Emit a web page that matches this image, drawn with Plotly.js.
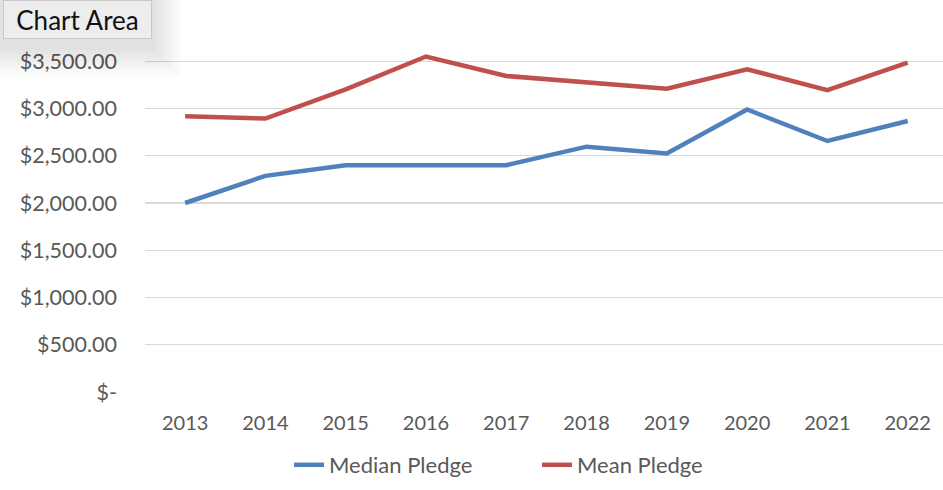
<!DOCTYPE html>
<html>
<head>
<meta charset="utf-8">
<script src="https://cdn.plot.ly/plotly-3.0.1.min.js"></script>
<style>html,body{margin:0;padding:0;background:#fff;}#chart{width:943px;height:490px;}</style>
</head>
<body>
<div id="chart"></div>
<script>
const years = ["2013","2014","2015","2016","2017","2018","2019","2020","2021","2022"];
const medianPledge = [2000, 2287, 2400, 2400, 2400, 2596, 2525, 2990, 2656, 2868];
const meanPledge = [2918, 2894, 3202, 3550, 3344, 3280, 3210, 3415, 3195, 3486];
const yTickVals = [0, 500, 1000, 1500, 2000, 2500, 3000, 3500, 4000];
const yTickText = ["$-", "$500.00", "$1,000.00", "$1,500.00", "$2,000.00", "$2,500.00", "$3,000.00", "$3,500.00", ""];

const font = "Lato, 'Open Sans', sans-serif";
const W = 798, H = 378, L = 145, T = 14;
const px = v => (v - L) / W;          // page x pixel -> paper
const py = v => 1 - (v - T) / H;      // page y pixel -> paper

const traces = [
  {x: years, y: medianPledge, type: "scatter", mode: "lines", name: "Median Pledge",
   line: {color: "#4F81BD", width: 4.5}},
  {x: years, y: meanPledge, type: "scatter", mode: "lines", name: "Mean Pledge",
   line: {color: "#C0504D", width: 4.5}}
];

// soft drop shadow behind the "Chart Area" tooltip
const shadowShapes = [];
for (let s = 30; s >= 2; s -= 2) {
  shadowShapes.push({type: "rect", xref: "paper", yref: "paper", layer: "above",
    x0: px(3 - s * 0.8), x1: px(152 + s), y0: py(39 + 8 + s), y1: py(0),
    fillcolor: "rgba(0,0,0,0.009)", line: {width: 0}});
}

const layout = {
  width: 943, height: 490,
  margin: {l: L, r: 0, t: T, b: 98, pad: 0},
  paper_bgcolor: "#ffffff", plot_bgcolor: "#ffffff",
  font: {family: font, size: 20, color: "#595959"},
  showlegend: true,
  legend: {orientation: "h", x: 0.1805, xanchor: "left", y: py(465), yanchor: "middle",
           font: {family: font, size: 22, color: "#595959"}, entrywidth: 203, traceorder: "normal"},
  xaxis: {type: "category", range: [-0.5, 9.44], showgrid: false, zeroline: false,
          showline: false, ticks: "", tickfont: {family: font, size: 20, color: "#595959"},
          ticklabelstandoff: 17, fixedrange: true},
  yaxis: {range: [0, 4000], tickmode: "array", tickvals: yTickVals, ticktext: yTickText,
          showgrid: true, gridcolor: "#D9D9D9", gridwidth: 1.3, zeroline: false, showline: false,
          ticks: "", tickfont: {family: font, size: 21.5, color: "#595959"},
          ticklabelstandoff: 27, fixedrange: true},
  shapes: shadowShapes,
  annotations: [
    {xref: "paper", yref: "paper", x: px(3), y: py(0), xanchor: "left", yanchor: "top",
     text: "Chart Area", showarrow: false, font: {family: font, size: 26, color: "#111111"},
     bgcolor: "#EDEDED", bordercolor: "#C9C9C9", borderwidth: 1, borderpad: 0,
     width: 147, height: 37, align: "center", valign: "middle"}
  ]
};
Plotly.newPlot("chart", traces, layout, {displayModeBar: false, staticPlot: true});
</script>
</body>
</html>
